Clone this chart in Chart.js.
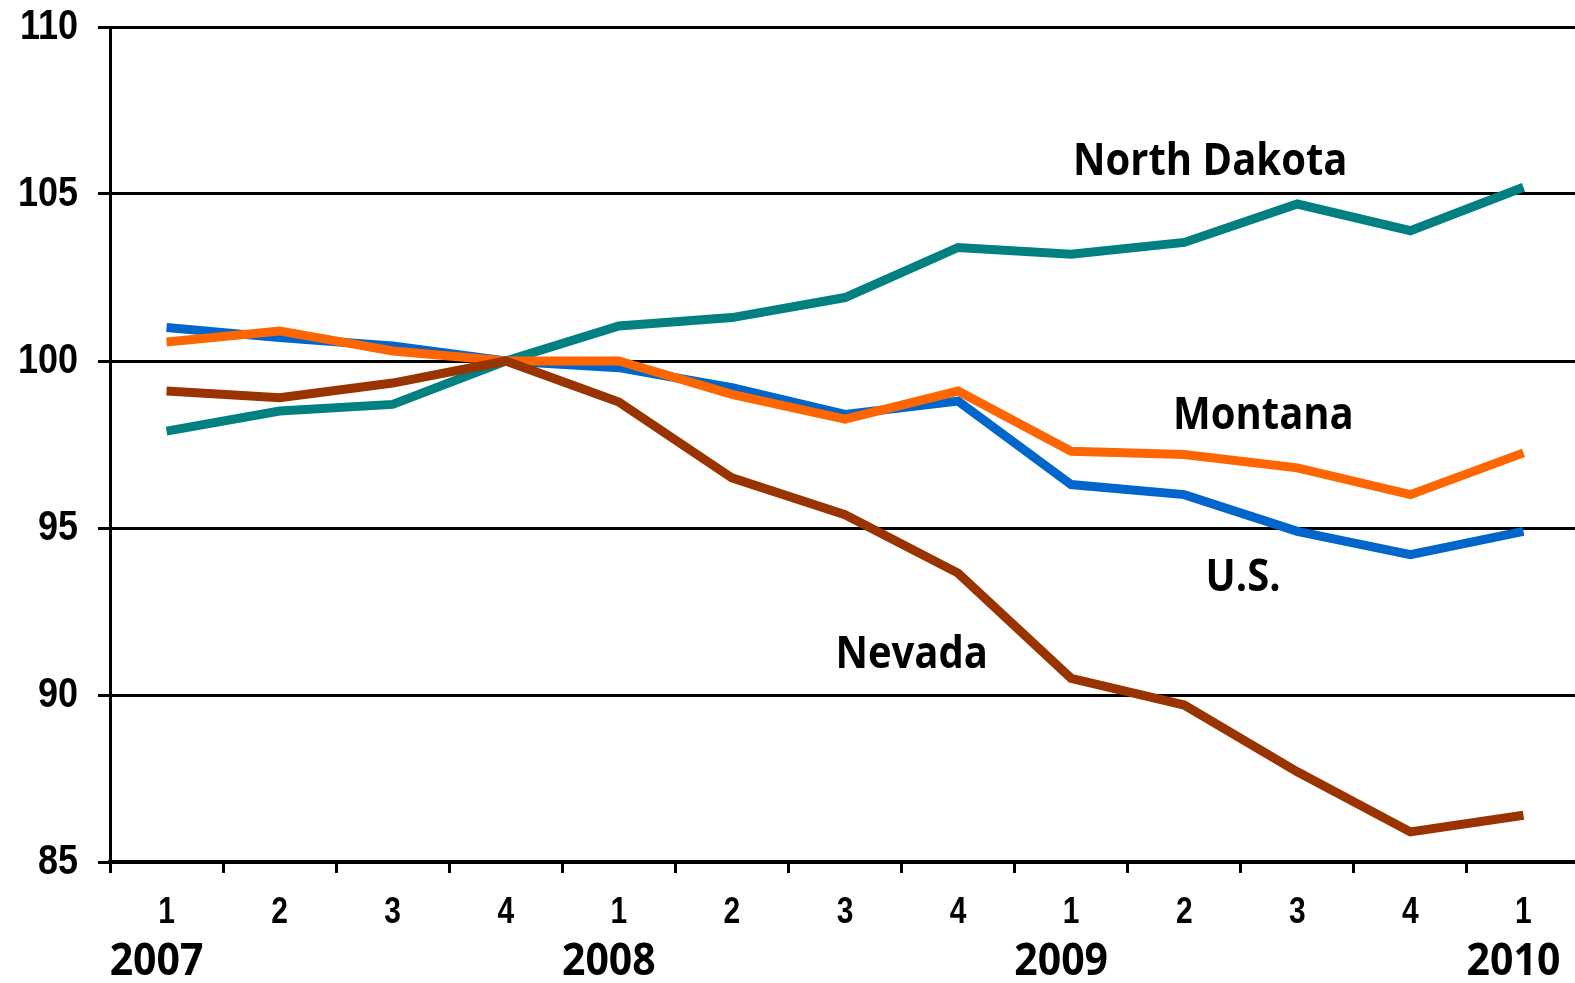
<!DOCTYPE html>
<html>
<head>
<meta charset="utf-8">
<script src="https://cdn.jsdelivr.net/npm/chart.js@4.4.0/dist/chart.umd.min.js"></script>
<style>
  html, body { margin: 0; padding: 0; background: #fff; overflow: hidden; }
  #wrap { position: relative; width: 1580px; height: 983px; }
</style>
</head>
<body>
<div id="wrap"><canvas id="chart"></canvas></div>
<script>
// quarters 2007Q1 .. 2010Q1
const quarters = ["1", "2", "3", "4", "1", "2", "3", "4", "1", "2", "3", "4", "1"];
const years = ["2007", "2008", "2009", "2010"];
const yearIndex = [0, 4, 8, 12];
const yTicks = [85, 90, 95, 100, 105, 110];

const usValues = [101.0, 100.7, 100.45, 100.0, 99.8, 99.2, 98.4, 98.8, 96.3, 96.0, 94.9, 94.2, 94.9];
const montanaValues = [100.57, 100.9, 100.3, 100.0, 100.0, 99.0, 98.26, 99.1, 97.3, 97.2, 96.8, 96.0, 97.25];
const northDakotaValues = [97.9, 98.5, 98.7, 100.0, 101.05, 101.3, 101.9, 103.4, 103.2, 103.55, 104.7, 103.9, 105.2];
const nevadaValues = [99.1, 98.9, 99.34, 100.0, 98.77, 96.5, 95.4, 93.65, 90.5, 89.7, 87.7, 85.9, 86.4];

// label anchors in data units (category index, value)
const nameAnchors = {
  "North Dakota": [9.23, 105.96],
  "Montana": [9.70, 98.35],
  "U.S.": [9.52, 93.5],
  "Nevada": [6.59, 91.2],
};

// the source picture is a bit stretched vertically, so text is drawn scaled
function stretchText(ctx, text, x, y, font, sy, align) {
  ctx.save();
  ctx.font = font;
  ctx.fillStyle = "#000";
  ctx.textAlign = align || "center";
  ctx.textBaseline = "middle";
  ctx.translate(x, y);
  ctx.scale(1, sy);
  ctx.fillText(text, 0, 0);
  ctx.restore();
}

const textPlugin = {
  id: "textPlugin",
  afterDraw(chart) {
    const ctx = chart.ctx;
    const xs = chart.scales.x;
    const ys = chart.scales.y;
    yTicks.forEach((v) => {
      stretchText(ctx, String(v), 78, ys.getPixelForValue(v), "bold 36px 'Liberation Sans'", 1.16, "right");
    });
    quarters.forEach((q, i) => {
      stretchText(ctx, q, xs.getPixelForValue(i), 913, "bold 30px 'Liberation Sans'", 1.2);
    });
    years.forEach((yr, i) => {
      const x = xs.getPixelForValue(yearIndex[i]) - 10;
      stretchText(ctx, yr, x, 962, "bold 41px 'Open Sans'", 1.1);
    });
    Object.keys(nameAnchors).forEach((name) => {
      const a = nameAnchors[name];
      stretchText(ctx, name, xs.getPixelForValue(a[0]), ys.getPixelForValue(a[1]),
        "bold 40px 'Open Sans'", 1.12);
    });
  },
};

const ctx = document.getElementById("chart").getContext("2d");

new Chart(ctx, {
  type: "line",
  data: {
    labels: quarters,
    datasets: [
      { label: "Nevada", data: nevadaValues, borderColor: "#993300" },
      { label: "Montana", data: montanaValues, borderColor: "#FF6600" },
      { label: "North Dakota", data: northDakotaValues, borderColor: "#008080" },
      { label: "U.S.", data: usValues, borderColor: "#0066CC" },
    ],
  },
  options: {
    responsive: true,
    maintainAspectRatio: false,
    animation: false,
    layout: { padding: { top: 27, left: 0, right: 0, bottom: 0 } },
    elements: {
      line: { borderWidth: 9, tension: 0, fill: false },
      point: { radius: 0, hoverRadius: 0 },
    },
    plugins: {
      legend: { display: false },
      tooltip: { enabled: false },
    },
    scales: {
      x: {
        offset: true,
        grid: {
          offset: true,
          drawOnChartArea: false,
          drawTicks: true,
          tickLength: 11,
          color: "#000",
          lineWidth: 3,
        },
        border: { color: "#000", width: 4 },
        ticks: {
          color: "rgba(0,0,0,0)",
          padding: 20,
          maxRotation: 0,
          autoSkip: false,
          font: { family: "'Liberation Sans', Arial", size: 30, weight: "bold" },
        },
        afterFit(scale) {
          scale.height = 121;
          scale.paddingLeft = 0;
          scale.paddingRight = 0;
        },
      },
      y: {
        min: 85,
        max: 110,
        afterBuildTicks(scale) { scale.ticks = yTicks.map((v) => ({ value: v })); },
        grid: {
          color: "#000",
          lineWidth: 3,
          tickLength: 12,
        },
        border: { color: "#000", width: 3 },
        ticks: {
          color: "rgba(0,0,0,0)",
          padding: 18,
          font: { family: "'Liberation Sans', Arial", size: 36, weight: "bold" },
        },
        afterFit(scale) {
          scale.width = 110;
          scale.paddingTop = 0;
          scale.paddingBottom = 0;
        },
      },
    },
  },
  plugins: [textPlugin],
});
</script>
</body>
</html>
